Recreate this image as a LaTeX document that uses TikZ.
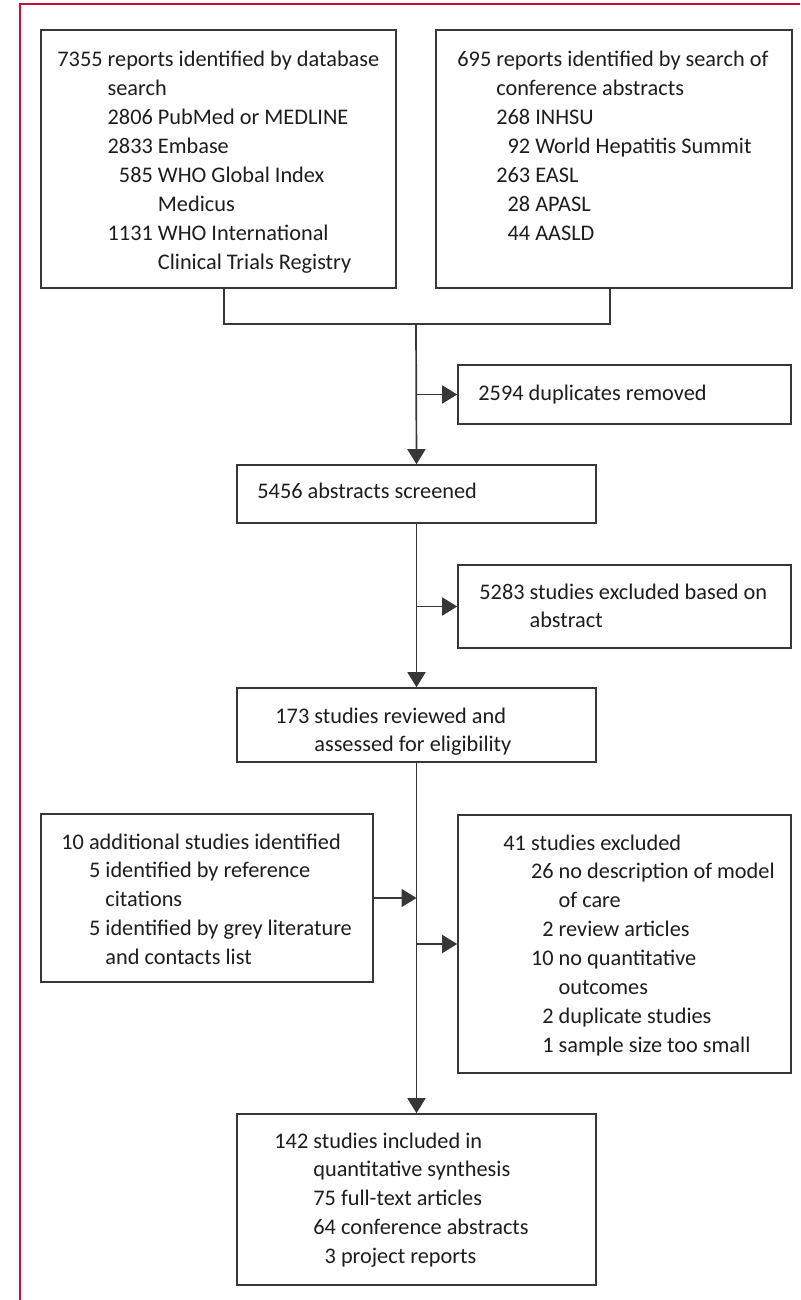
\documentclass[tikz,border=0pt]{standalone}
\usepackage{fontspec}
\newfontfamily\flowfont{Carlito}
\usetikzlibrary{arrows.meta,fit}
\definecolor{framered}{RGB}{200,16,56}
\definecolor{boxgray}{RGB}{55,55,55}
\definecolor{inkgray}{RGB}{30,28,28}
\tikzset{
  box/.style={draw=boxgray, line width=0.8pt, inner sep=0pt},
  txt/.style={anchor=base west, inner sep=0pt, text=inkgray,
    font=\flowfont\fontsize{11.15pt}{14.45pt}\selectfont},
  link/.style={draw=boxgray, line width=0.85pt},
  flow/.style={link, -{Triangle[length=7.5pt,width=9pt]}},
}
\begin{document}
\begin{tikzpicture}[x=0.5pt, y=-0.5pt]
  \useasboundingbox (0,0) rectangle (800,1300);
  % Define the red frame
  \draw[framered, line width=1pt] (20,1300) -- (20,4) -- (800,4);

  % Define the boxes
  \node[box, fit={(41,30) (396,288)}] (db) {};
  \node[box, fit={(436,30) (792,288)}] (conf) {};
  \node[box, fit={(458,365) (791,424)}] (dup) {};
  \node[box, fit={(237,465) (596,523)}] (scr) {};
  \node[box, fit={(458,565) (791,648)}] (exc1) {};
  \node[box, fit={(237,688) (596,762)}] (rev) {};
  \node[box, fit={(41,814) (373,982)}] (add) {};
  \node[box, fit={(458,815) (791,1073)}] (exc2) {};
  \node[box, fit={(237,1114) (596,1285)}] (inc) {};

  % Add the texts to the boxes
  \node[txt] (db-t) at (57,67) {\begin{tabular}[t]{@{}r@{\ }r@{\ }l@{}}
    7355 & \multicolumn{2}{@{}l@{}}{reports identified by database}\\
         & \multicolumn{2}{@{}l@{}}{search}\\
         & 2806 & PubMed or MEDLINE\\
         & 2833 & Embase\\
         & 585  & WHO Global Index\\
         &      & Medicus\\
         & 1131 & WHO International\\
         &      & Clinical Trials Registry
  \end{tabular}};
  \node[txt] (conf-t) at (457,67) {\begin{tabular}[t]{@{}r@{\ }r@{\ }l@{}}
    695 & \multicolumn{2}{@{}l@{}}{reports identified by search of}\\
        & \multicolumn{2}{@{}l@{}}{conference abstracts}\\
        & 268 & INHSU\\
        & 92  & World Hepatitis Summit\\
        & 263 & EASL\\
        & 28  & APASL\\
        & 44  & AASLD
  \end{tabular}};
  \node[txt] (dup-t) at (478,400) {2594 duplicates removed};
  \node[txt] (scr-t) at (257,498) {5456 abstracts screened};
  \node[txt] (exc1-t) at (479,599) {\begin{tabular}[t]{@{}r@{\ }l@{}}
    5283 & studies excluded based on\\
         & abstract
  \end{tabular}};
  \node[txt] (rev-t) at (275,723) {\begin{tabular}[t]{@{}r@{\ }l@{}}
    173 & studies reviewed and\\
        & assessed for eligibility
  \end{tabular}};
  \node[txt] (add-t) at (61,849) {\begin{tabular}[t]{@{}r@{\ }r@{\ }l@{}}
    10 & \multicolumn{2}{@{}l@{}}{additional studies identified}\\
       & 5 & identified by reference\\
       &   & citations\\
       & 5 & identified by grey literature\\
       &   & and contacts list
  \end{tabular}};
  \node[txt] (exc2-t) at (503,850) {\begin{tabular}[t]{@{}r@{\ }r@{\ }l@{}}
    41 & \multicolumn{2}{@{}l@{}}{studies excluded}\\
       & 26 & no description of model\\
       &    & of care\\
       & 2  & review articles\\
       & 10 & no quantitative\\
       &    & outcomes\\
       & 2  & duplicate studies\\
       & 1  & sample size too small
  \end{tabular}};
  \node[txt] (inc-t) at (274,1148) {\begin{tabular}[t]{@{}r@{\ }r@{\ }l@{}}
    142 & \multicolumn{2}{@{}l@{}}{studies included in}\\
        & \multicolumn{2}{@{}l@{}}{quantitative synthesis}\\
        & 75 & full-text articles\\
        & 64 & conference abstracts\\
        & 3  & project reports
  \end{tabular}};

  % Define the connectors
  \coordinate (join) at (416,324);
  \draw[link] ([xshift=2.75pt]db.south) |- (join) -| ([xshift=-2pt]conf.south);
  \draw[flow] (join) -- (scr.north);
  \draw[flow] (join |- dup.west) -- (dup.west);
  \draw[flow] (scr.south) -- (rev.north);
  \draw[flow] (scr.south |- exc1.west) -- (exc1.west);
  \draw[flow] (rev.south) -- (inc.north);
  \draw[flow] (rev.south |- exc2.west) -- (exc2.west);
  \draw[flow] (add.east) -- (add.east -| rev.south);
\end{tikzpicture}
\end{document}
